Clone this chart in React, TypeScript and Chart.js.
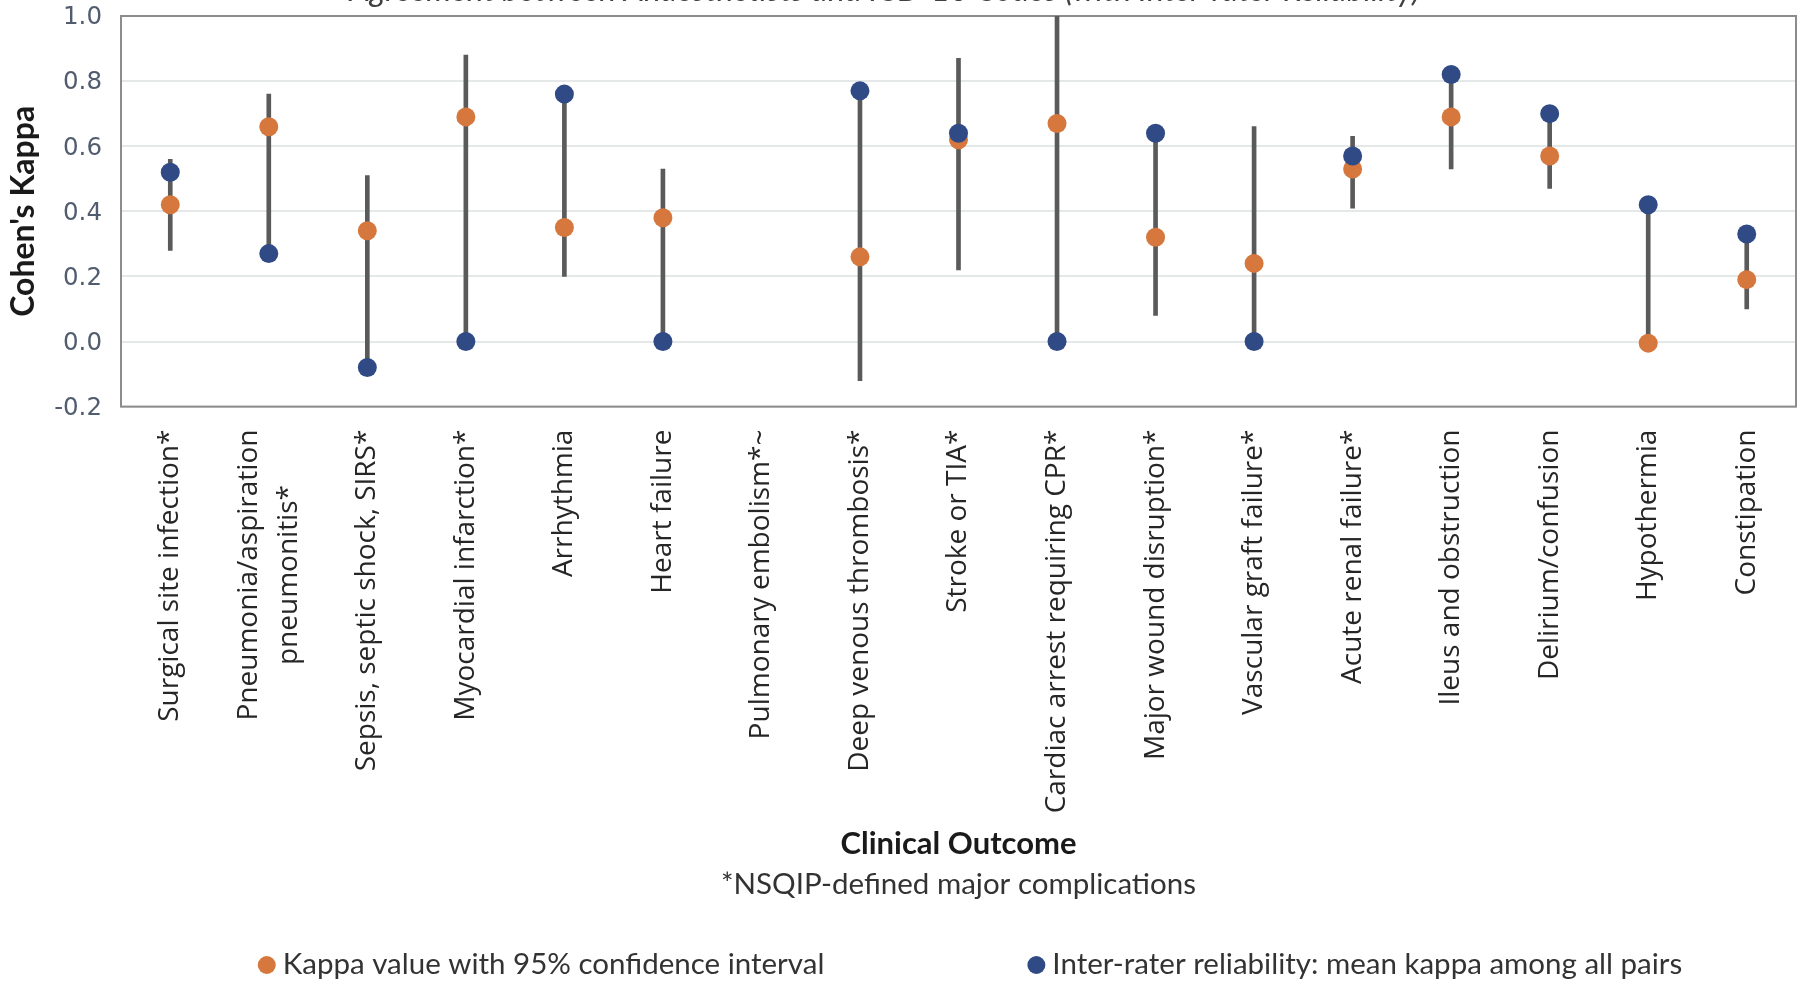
import React, { useEffect, useRef } from 'react';
import { Chart, registerables } from 'chart.js';

Chart.register(...registerables);

// ---------------- data ----------------
const categories: (string | string[])[] = [
  'Surgical site infection*',
  ['Pneumonia/aspiration', 'pneumonitis*'],
  'Sepsis, septic shock, SIRS*',
  'Myocardial infarction*',
  'Arrhythmia',
  'Heart failure',
  'Pulmonary embolism*~',
  'Deep venous thrombosis*',
  'Stroke or TIA*',
  'Cardiac arrest requiring CPR*',
  'Major wound disruption*',
  'Vascular graft failure*',
  'Acute renal failure*',
  'Ileus and obstruction',
  'Delirium/confusion',
  'Hypothermia',
  'Constipation',
];

const kappa: (number | null)[] = [0.42, 0.66, 0.34, 0.69, 0.35, 0.38, null, 0.26, 0.62, 0.67, 0.32, 0.24, 0.53, 0.69, 0.57, -0.005, 0.19];
const ciLow: (number | null)[] = [0.28, 0.27, -0.08, 0.0, 0.2, 0.0, null, -0.12, 0.22, 0.0, 0.08, 0.0, 0.41, 0.53, 0.47, 0.0, 0.1];
const ciHigh: (number | null)[] = [0.56, 0.76, 0.51, 0.88, 0.76, 0.53, null, 0.77, 0.87, 1.0, 0.64, 0.66, 0.63, 0.82, 0.7, 0.42, 0.33];
const interRater: (number | null)[] = [0.52, 0.27, -0.08, 0.0, 0.76, 0.0, null, 0.77, 0.64, 0.0, 0.64, 0.0, 0.57, 0.82, 0.7, 0.42, 0.33];

const yTickValues = [-0.2, 0.0, 0.2, 0.4, 0.6, 0.8, 1.0];

const chartTitle = 'Agreement between Anaesthetists and ICD-10 Codes (with Inter-rater Reliability)';
const xTitle = 'Clinical Outcome';
const yTitle = "Cohen's Kappa";
const footnote = '*NSQIP-defined major complications';
const legendLabels = ['Kappa value with 95% confidence interval', 'Inter-rater reliability: mean kappa among all pairs'];

// ---------------- styles ----------------
const ORANGE = '#D6783E';
const BLUE = '#2F4A85';
const CI_GREY = '#5a5a5a';
const GRID = '#e4e8e9';
const FRAME = '#8c8c8c';
const TICK_COLOR = '#515d6e';
const TEXT = '#262626';

const framePlugin = {
  id: 'frame',
  beforeDatasetsDraw(chart: any) {
    const { ctx, chartArea } = chart;
    ctx.save();
    ctx.strokeStyle = FRAME;
    ctx.lineWidth = 2;
    ctx.strokeRect(chartArea.left, chartArea.top, chartArea.right - chartArea.left, chartArea.bottom - chartArea.top);
    ctx.restore();
  },
};

const textPlugin = {
  id: 'texts',
  afterDraw(chart: any) {
    const { ctx, chartArea } = chart;
    const xScale = chart.scales.x;
    ctx.save();
    // category labels (rotated)
    ctx.font = '28px "Open Sans"';
    ctx.fillStyle = TEXT;
    ctx.textAlign = 'right';
    ctx.textBaseline = 'middle';
    const labelEnd = chartArea.bottom + 23;
    const lineGap = 40;
    categories.forEach((lab, i) => {
      const lines = Array.isArray(lab) ? lab : [lab];
      const x = xScale.getPixelForValue(i);
      const widths = lines.map((l) => ctx.measureText(l).width);
      const maxW = Math.max(...widths);
      lines.forEach((line, j) => {
        const lx = x + (j - (lines.length - 1) / 2) * lineGap;
        const ly = labelEnd + (maxW - widths[j]) / 2;
        ctx.save();
        ctx.translate(lx, ly);
        ctx.rotate(-Math.PI / 2);
        ctx.fillText(line, 0, 0);
        ctx.restore();
      });
    });

    // partially visible title at the very top
    ctx.font = 'italic 32px Lato';
    ctx.fillStyle = '#404040';
    ctx.textAlign = 'center';
    ctx.textBaseline = 'alphabetic';
    ctx.fillText(chartTitle, chart.width / 2 - 19, 1);

    // legend
    const items = legendLabels
      .map((t) => chart.data.datasets.find((d: any) => d.legendText === t))
      .filter(Boolean);
    ctx.font = '29.5px Lato';
    ctx.textBaseline = 'middle';
    ctx.textAlign = 'left';
    const textGap = 16;
    const itemGap = 212;
    const widths = items.map((d: any) => ctx.measureText(d.legendText).width);
    let total = 0;
    widths.forEach((w: number, i: number) => {
      total += textGap + w + (i < widths.length - 1 ? itemGap : 0);
    });
    const cx = (chartArea.left + chartArea.right) / 2 + 16;
    let x = cx - total / 2;
    const y = chart.height - 22;
    items.forEach((d: any, i: number) => {
      ctx.fillStyle = d.pointBackgroundColor;
      ctx.beginPath();
      ctx.arc(x, y + 1, 9, 0, Math.PI * 2);
      ctx.fill();
      ctx.fillStyle = '#333333';
      ctx.fillText(d.legendText, x + textGap, y);
      x += textGap + widths[i] + itemGap;
    });
    ctx.restore();
  },
};

export default function App() {
  const canvasRef = useRef<HTMLCanvasElement | null>(null);

  useEffect(() => {
    if (!canvasRef.current) return;
    Chart.defaults.font.family = '"Open Sans"';
    const chart = new Chart(canvasRef.current, {
      type: 'bar',
      data: {
        labels: categories.map((c) => (Array.isArray(c) ? c.join(' ') : c)),
        datasets: [
          {
            type: 'line',
            label: 'Inter-rater reliability',
            legendText: legendLabels[1],
            data: interRater,
            showLine: false,
            pointRadius: 9.5,
            pointHoverRadius: 9.5,
            pointBackgroundColor: BLUE,
            pointBorderWidth: 0,
            borderColor: BLUE,
            order: 0,
          } as any,
          {
            type: 'line',
            label: 'Kappa',
            legendText: legendLabels[0],
            data: kappa,
            showLine: false,
            pointRadius: 9.5,
            pointHoverRadius: 9.5,
            pointBackgroundColor: ORANGE,
            pointBorderWidth: 0,
            borderColor: ORANGE,
            order: 1,
          } as any,
          {
            type: 'bar',
            label: '95% CI',
            data: ciLow.map((lo, i) => (lo === null || ciHigh[i] === null ? null : [lo, ciHigh[i] as number])),
            backgroundColor: CI_GREY,
            borderWidth: 0,
            barThickness: 4,
            order: 2,
          } as any,
        ],
      },
      options: {
        responsive: false,
        animation: false,
        devicePixelRatio: 1,
        events: [],
        layout: { padding: { top: 16, right: 12, bottom: 84, left: 0 } },
        plugins: {
          legend: { display: false },
          tooltip: { enabled: false },
          title: { display: false },
          subtitle: {
            display: true,
            text: footnote,
            position: 'bottom',
            fullSize: false,
            color: '#333333',
            font: { family: 'Lato', size: 29.5, weight: 'normal' },
            padding: { top: 2, bottom: 0 },
          },
        },
        scales: {
          x: {
            type: 'category',
            offset: true,
            grid: { display: false, drawTicks: false },
            border: { display: false },
            ticks: { display: false },
            title: {
              display: true,
              text: xTitle,
              color: '#1a1a1a',
              font: { family: 'Lato', size: 31, weight: 'bold' },
              padding: { top: 0, bottom: 2 },
            },
            afterFit: (scale: any) => {
              scale.height = 458;
            },
          },
          y: {
            min: -0.2,
            max: 1.0,
            afterBuildTicks: (axis: any) => {
              axis.ticks = yTickValues.map((v) => ({ value: v }));
            },
            ticks: {
              callback: (v: any) => (Math.abs(Number(v)) < 1e-9 ? 0 : Number(v)).toFixed(1),
              color: TICK_COLOR,
              font: { family: 'DejaVu Sans', size: 24.5 },
              padding: 19,
              labelOffset: 2,
            },
            grid: {
              drawTicks: false,
              lineWidth: 2,
              color: GRID,
            },
            border: { display: false },
            title: {
              display: true,
              text: yTitle,
              color: '#1a1a1a',
              font: { family: 'Lato', size: 32, weight: 'bold' },
              padding: { top: 4, bottom: 0 },
            },
            afterFit: (scale: any) => {
              scale.width = 121;
              scale.paddingTop = 0;
              scale.paddingBottom = 0;
            },
          },
        },
      } as any,
      plugins: [framePlugin, textPlugin],
    });
    return () => chart.destroy();
  }, []);

  return (
    <div style={{ position: 'fixed', left: 0, top: 0, width: 1808, height: 986, background: '#ffffff' }}>
      <canvas ref={canvasRef} width={1808} height={986} style={{ display: 'block' }} />
    </div>
  );
}
